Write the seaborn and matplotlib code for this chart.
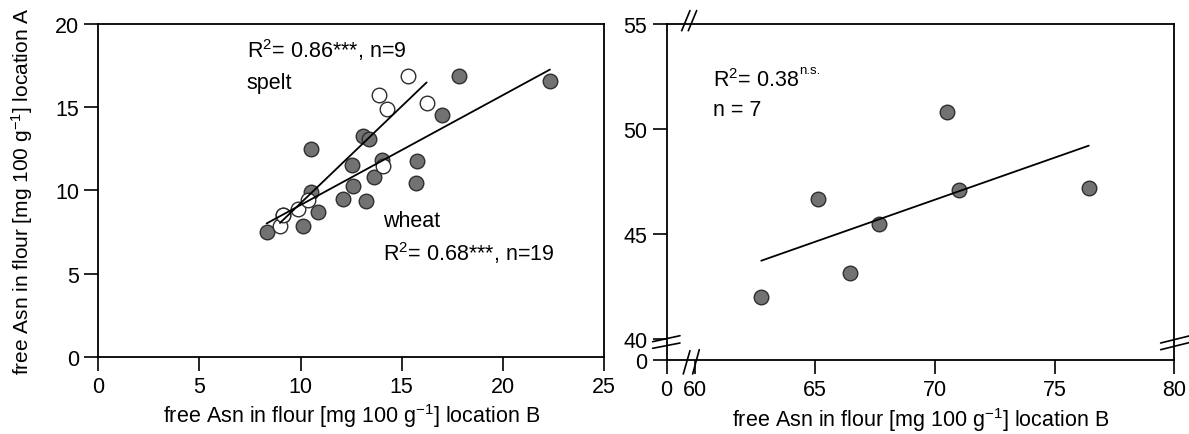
import numpy as np
import pandas as pd
import matplotlib
matplotlib.use("Agg")
import matplotlib.pyplot as plt
import seaborn as sns

# ---------------- data ----------------
wheat_b = [8.32, 10.13, 10.88, 10.51, 10.51, 12.11, 13.22, 12.61, 12.54, 13.07,
           13.40, 13.64, 14.04, 15.74, 15.69, 17.00, 17.81, 22.33, 9.15]
wheat_a = [7.51, 7.87, 8.68, 9.92, 12.48, 9.48, 9.34, 10.28, 11.52, 13.25,
           13.08, 10.78, 11.82, 11.74, 10.44, 14.53, 16.85, 16.59, 8.53]
spelt_b = [8.98, 9.15, 9.89, 10.38, 14.09, 13.89, 14.26, 16.23, 15.32]
spelt_a = [7.87, 8.53, 8.88, 9.44, 11.48, 15.75, 14.89, 15.23, 16.85]
right_b = [62.75, 65.11, 66.44, 67.65, 70.52, 70.99, 76.43]
right_a = [41.99, 46.66, 43.12, 45.48, 50.83, 47.11, 47.19]

left_xticks = [0, 5, 10, 15, 20, 25]
left_yticks = [0, 5, 10, 15, 20]
right_xticks = [60, 65, 70, 75, 80]
right_yticks = [40, 45, 50, 55]

xlabel = r'free Asn in flour [mg 100 g$^{\mathregular{-1}}$] location B'
ylabel = r'free Asn in flour [mg 100 g$^{\mathregular{-1}}$] location A'

# ---------------- style ----------------
sns.set_theme(style="ticks")
plt.rcParams['font.family'] = ['Liberation Sans', 'DejaVu Sans']
plt.rcParams['mathtext.fontset'] = 'custom'
plt.rcParams['mathtext.rm'] = 'Liberation Sans'
plt.rcParams['mathtext.it'] = 'Liberation Sans:italic'
for k in ['text.color', 'axes.labelcolor', 'xtick.color', 'ytick.color',
          'axes.edgecolor']:
    plt.rcParams[k] = 'black'

FS = 15.5
fill = '#727272'
edge = '#2e2e2e'
MS = 110

fig = plt.figure(figsize=(11.89, 4.35), dpi=100)
axL = fig.add_axes([0.0827, 0.1777, 0.4253, 0.7648])
axR = fig.add_axes([0.5607, 0.1701, 0.4269, 0.7724])


def style_axes(ax):
    for s in ax.spines.values():
        s.set_visible(True)
        s.set_linewidth(1.3)
        s.set_color('black')
    ax.tick_params(direction='out', length=10, width=1.2, color='black',
                   labelsize=FS, pad=4, labelcolor='black')
    ax.set_facecolor('white')


# ---------------- left panel ----------------
wdf = pd.DataFrame({'b': wheat_b, 'a': wheat_a})
sdf = pd.DataFrame({'b': spelt_b, 'a': spelt_a})

sns.scatterplot(data=wdf, x='b', y='a', ax=axL, s=MS, color=fill,
                edgecolor=edge, linewidth=1.0, zorder=3, legend=False)
sns.scatterplot(data=sdf, x='b', y='a', ax=axL, s=MS, color='white',
                edgecolor=edge, linewidth=1.0, zorder=4, legend=False)
sns.regplot(data=wdf, x='b', y='a', ax=axL, scatter=False, ci=None,
            line_kws=dict(color='black', lw=1.3, zorder=5))
sns.regplot(data=sdf, x='b', y='a', ax=axL, scatter=False, ci=None,
            line_kws=dict(color='black', lw=1.3, zorder=5))

axL.set_xlim(0, 25)
axL.set_ylim(0, 20)
axL.set_xticks(left_xticks)
axL.set_yticks(left_yticks)
style_axes(axL)
axL.set_xlabel(xlabel, fontsize=FS, labelpad=3)
axL.set_ylabel(ylabel, fontsize=15, labelpad=14)

axL.text(7.34, 18.49, r'R$^{\mathregular{2}}$= 0.86***, n=9', fontsize=FS,
         ha='left', va='center')
axL.text(7.34, 16.49, 'spelt', fontsize=FS, ha='left', va='center')
axL.text(14.06, 8.17, 'wheat', fontsize=FS, ha='left', va='center')
axL.text(14.06, 6.27, r'R$^{\mathregular{2}}$= 0.68***, n=19', fontsize=FS,
         ha='left', va='center')

# ---------------- right panel ----------------
rdf = pd.DataFrame({'b': right_b, 'a': right_a})
sns.scatterplot(data=rdf, x='b', y='a', ax=axR, s=MS, color=fill,
                edgecolor=edge, linewidth=1.0, zorder=3, legend=False)
sns.regplot(data=rdf, x='b', y='a', ax=axR, scatter=False, ci=None,
            line_kws=dict(color='black', lw=1.3, zorder=5))

x0 = 58.8   # position of the broken-axis "0"
y0 = 39.0
axR.set_xlim(x0, 80)
axR.set_ylim(y0, 55)
axR.set_xticks([x0] + right_xticks)
axR.set_xticklabels(['0'] + [str(v) for v in right_xticks])
axR.set_yticks([y0] + right_yticks)
axR.set_yticklabels(['0'] + [str(v) for v in right_yticks])
style_axes(axR)
axR.set_xlabel(xlabel, fontsize=FS, labelpad=3)
axR.set_ylabel('')

t = axR.text(60.75, 52.37, r'R$^{\mathregular{2}}$= 0.38',
             fontsize=FS, ha='left', va='center')
axR.annotate('n.s.', xy=(1.0, 0.62), xycoords=t, fontsize=9.5,
             ha='left', va='bottom')
axR.text(60.75, 50.95, 'n = 7', fontsize=FS, ha='left', va='center')

# break marks (axes-fraction decorations)
brk = dict(transform=axR.transAxes, color='black', lw=1.2, clip_on=False, zorder=6)
axR.plot([0.0296, 0.0459], [0.980, 1.040], **brk)
axR.plot([0.0426, 0.0591], [0.980, 1.040], **brk)
axR.plot([0.0327, 0.0459], [-0.0417, 0.0277], **brk)
axR.plot([0.0512, 0.0642], [-0.0417, 0.0307], **brk)
axR.plot([-0.0276, 0.0262], [0.0545, 0.0723], **brk)
axR.plot([-0.0276, 0.0262], [0.0348, 0.0506], **brk)
axR.plot([0.9732, 1.0367], [0.0506, 0.0744], **brk)
axR.plot([0.9732, 1.0367], [0.0307, 0.0545], **brk)

fig.savefig('out.png', dpi=100, facecolor='white')
